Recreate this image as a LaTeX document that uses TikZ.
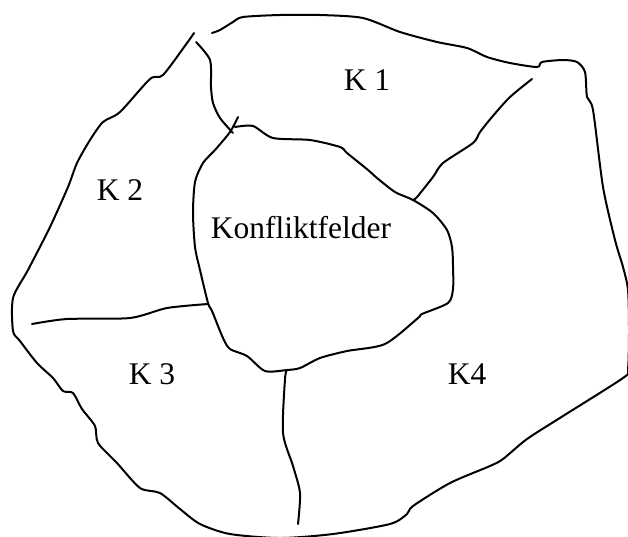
\documentclass[tikz,border=0pt]{standalone}
\usepackage{fontspec}
\setmainfont{Liberation Serif}
\usetikzlibrary{positioning}
\tikzset{
    border/.style={line width=2pt, line join=round, line cap=round},
    field/.style={font=\fontsize{31.5}{36}\selectfont, inner sep=0pt},
}

\begin{document}
\begin{tikzpicture}[x=1pt,y=-1pt]
       \useasboundingbox (0,0) rectangle (628,536);
       % junctions
       \coordinate (topgapL) at (194,33);
       \coordinate (topgapR) at (212,33);
       \coordinate (cross) at (233,133);
       \coordinate (j14) at (413,200);
       \coordinate (j23) at (208,304);
       \coordinate (j34) at (287,370);
       % outer border
       \draw[border] plot[smooth, tension=0.45] coordinates {
           (212,33) (220,30) (233,22) (243,17) (280,15) (320,15) (363,18)
           (400,32) (437,42) (467,48) (487,57) (510,63) (537,67) (542,62)
           (563,60) (577,62) (585,72) (587,97) (593,110) (603,187) (615,240)
           (623,267) (628,290) (629,330) (628,369) (623,378) (563,416)
           (527,439) (503,459) (490,466) (450,483) (413,506) (407,514)
           (390,524) (333,534) (280,538) (230,534) (200,524) (180,509)
           (160,493) (140,488) (117,463) (98,443) (95,426) (82,409) (73,393)
           (63,391) (53,378) (37,363) (20,341) (13,331) (13,298) (28,270)
           (50,227) (68,187) (77,163) (90,140) (103,122) (120,112) (150,79)
           (163,75) (187,43) (194,33)};
       % Konfliktfelder
       \draw[border] plot[smooth, tension=0.45] coordinates {
           (238,117) (230,132) (215,150) (203,163) (195,182) (193,213)
           (195,247) (200,270) (208,303) (212,311) (223,338) (230,349)
           (247,356) (265,371) (287,370) (300,368) (320,358) (347,351)
           (385,344) (418,318) (422,314) (448,303) (453,289) (453,266)
           (452,247) (447,230) (433,213) (413,200) (395,192) (377,178)
           (368,170) (347,153) (340,147) (310,140) (273,138) (253,126)
           (235,127)};
       % dividers
       \draw[border] plot[smooth, tension=0.45] coordinates {
           (196,42) (210,60) (211,87) (213,103) (220,118) (233,133)};
       \draw[border] plot[smooth, tension=0.45] coordinates {
           (532,79) (510,97) (492,117) (480,132) (473,143) (443,163)
           (433,177) (417,197) (413,200)};
       \draw[border] plot[smooth, tension=0.45] coordinates {
           (32,324) (67,319) (130,318) (167,308) (208,304)};
       \draw[border] plot[smooth, tension=0.45] coordinates {
           (287,370) (285,379) (283,433) (293,466) (300,493) (298,524)};
       % labels
       \node[field] (k1) at (367,80) {K 1};
       \node[field] (k2) at (120,190) {K 2};
       \node[field] (k3) at (152,374) {K 3};
       \node[field] (k4) at (467,374) {K4};
       \node[field] (kf) at (301,228) {Konfliktfelder};
\end{tikzpicture}
\end{document}
